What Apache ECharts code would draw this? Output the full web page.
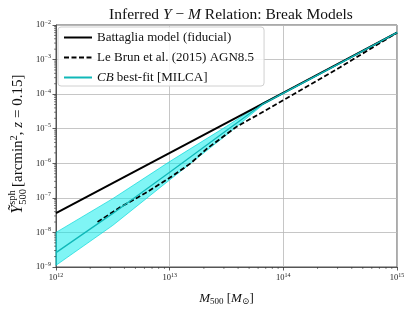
<!DOCTYPE html>
<html><head><meta charset="utf-8">
<script src="https://cdn.jsdelivr.net/npm/echarts@6/dist/echarts.min.js"></script>
<style>html,body{margin:0;padding:0;background:#fff}#c{width:415px;height:311px}</style>
</head><body><div id="c"></div>
<script>
// ---- data ----
const massBattaglia = [1e12, 1e15];
const yBattaglia = [3.63e-8, 6.0e-3];

const massCB = [1e12, 3.16e12, 1e13, 3.16e13, 6.6e13, 1e14, 3.16e14, 1e15];
const yCB = [2.6e-9, 3.55e-8, 5.5e-7, 8.9e-6, 5.2e-5, 1.07e-4, 7.9e-4, 6.0e-3];
const yCBUpper = [1.0e-8, 9.5e-8, 1.12e-6, 1.17e-5, 5.6e-5, 1.12e-4, 8.3e-4, 6.3e-3];
const yCBLower = [1.12e-9, 1.6e-8, 3.3e-7, 6.6e-6, 4.9e-5, 1.02e-4, 7.6e-4, 5.8e-3];

const massLeBrun = [2.32e12, 3.69e12, 6.12e12, 1e13, 1.53e13, 2.14e13, 3.89e13, 6.3e13, 1.07e14, 3.16e14, 1e15];
const yLeBrun = [2.0e-8, 5.4e-8, 1.38e-7, 3.8e-7, 1.0e-6, 2.7e-6, 1.15e-5, 2.8e-5, 7.6e-5, 6.0e-4, 6.0e-3];

const seriesNames = ['Battaglia model (fiducial)', 'Le Brun et al. (2015) AGN8.5', 'CB best-fit [MILCA]'];
const xMin = 1e12, xMax = 1e15, yMin = 1e-9, yMax = 1e-2;

// ---- build ----
const zip = (a, b) => a.map((v, i) => [v, b[i]]);
const SERIF = '"Liberation Serif", "DejaVu Serif", serif';
const tickFmt = v => {
  const e = Math.round(Math.log10(v));
  return '{b|10}{e|' + (e < 0 ? '\u2212' + (-e) : e) + '}';
};
const tickRich = {
  b: {fontFamily: SERIF, fontSize: 8.5, color: '#222'},
  e: {fontFamily: SERIF, fontSize: 6, color: '#222', padding: [0, 0, 6, 0]}
};
const minorX = [], minorY = [];
for (let k = 12; k < 15; k++) for (let m = 2; m <= 9; m++) minorX.push(m * Math.pow(10, k));
for (let k = -9; k < -2; k++) for (let m = 2; m <= 9; m++) minorY.push(m * Math.pow(10, k));

const chart = echarts.init(document.getElementById('c'), null, {renderer: 'canvas'});

const option = {
  animation: false,
  backgroundColor: '#fff',
  textStyle: {fontFamily: SERIF},
  title: {
    text: 'Inferred {i|Y} \u2212 {i|M} Relation: Break Models',
    left: 226, top: 2, textAlign: 'center',
    textStyle: {fontFamily: SERIF, fontSize: 15.5, fontWeight: 'normal', color: '#111',
      rich: {i: {fontFamily: SERIF, fontSize: 15.5, fontStyle: 'italic', color: '#111'}}}
  },
  grid: {left: 56, right: 18, top: 25, bottom: 44, show: true, borderColor: '#555', borderWidth: 1},
  legend: {
    orient: 'vertical', left: 58, top: 27,
    padding: [4, 10, 2, 5], itemGap: 7, itemWidth: 28, itemHeight: 12,
    backgroundColor: 'rgba(255,255,255,0.85)', borderColor: '#d0d0d0', borderWidth: 1, borderRadius: 3,
    data: seriesNames,
    itemStyle: {opacity: 0},
    formatter: n => n === seriesNames[2] ? '{i|CB} best-fit [MILCA]' : n,
    textStyle: {fontFamily: SERIF, fontSize: 13, color: '#111',
      rich: {i: {fontFamily: SERIF, fontSize: 13, fontStyle: 'italic', color: '#111'}}}
  },
  xAxis: {
    type: 'log', logBase: 10, min: xMin, max: xMax, interval: 1,
    axisLine: {show: true, lineStyle: {color: '#555', width: 1}},
    axisTick: {show: true, length: 3.5, inside: false, lineStyle: {color: '#333', width: 0.8}},
    axisLabel: {formatter: tickFmt, rich: tickRich, margin: 5},
    splitLine: {show: true, lineStyle: {color: '#b8b8b8', width: 0.8}},
    name: '{i|M}{s|500} [{i|M}{s|\u2299}]', nameLocation: 'middle', nameGap: 25,
    nameTextStyle: {fontFamily: SERIF, fontSize: 13, color: '#111',
      rich: {i: {fontFamily: SERIF, fontSize: 13, fontStyle: 'italic', color: '#111'},
             s: {fontFamily: SERIF, fontSize: 9, color: '#111', padding: [5, 0, 0, 0]}}}
  },
  yAxis: {
    type: 'log', logBase: 10, min: yMin, max: yMax, interval: 1,
    axisLine: {show: true, lineStyle: {color: '#555', width: 1}},
    axisTick: {show: true, length: 3.5, inside: false, lineStyle: {color: '#333', width: 0.8}},
    axisLabel: {formatter: tickFmt, rich: tickRich, margin: 5},
    splitLine: {show: true, lineStyle: {color: '#b8b8b8', width: 0.8}}
  },
  series: [
    {
      name: 'band', type: 'custom', silent: true, z: 1,
      data: [0],
      renderItem: (params, api) => {
        const up = massCB.map((m, i) => api.coord([m, yCBUpper[i]]));
        const lo = massCB.map((m, i) => api.coord([m, yCBLower[i]])).reverse();
        return {type: 'group', children: [
          {type: 'polygon', shape: {points: up.concat(lo)},
           style: {fill: 'rgba(0,235,235,0.5)', stroke: 'rgba(0,215,215,0.85)', lineWidth: 0.8}}
        ]};
      }
    },
    {
      name: seriesNames[0], type: 'line', symbol: 'none', z: 3,
      data: zip(massBattaglia, yBattaglia),
      lineStyle: {color: '#000', width: 2}, itemStyle: {color: '#000'}
    },
    {
      name: seriesNames[1], type: 'line', symbol: 'none', z: 4,
      data: zip(massLeBrun, yLeBrun),
      lineStyle: {color: '#000', width: 1.8, type: [5, 2.5]}, itemStyle: {color: '#000'}
    },
    {
      name: seriesNames[2], type: 'line', symbol: 'none', z: 5,
      data: zip(massCB, yCB),
      lineStyle: {color: '#10b8b8', width: 1.3}, itemStyle: {color: '#10b8b8'}
    },
    {
      name: 'minorX', type: 'custom', silent: true, z: 6, clip: false,
      data: minorX,
      renderItem: (params, api) => {
        const p = api.coord([api.value(0), yMin]);
        return {type: 'line', shape: {x1: p[0], y1: p[1], x2: p[0], y2: p[1] + 2},
                style: {stroke: '#333', lineWidth: 0.6}};
      }
    },
    {
      name: 'minorY', type: 'custom', silent: true, z: 6, clip: false,
      data: minorY.map(v => [xMin, v]),
      renderItem: (params, api) => {
        const p = api.coord([xMin, api.value(1)]);
        return {type: 'line', shape: {x1: p[0], y1: p[1], x2: p[0] - 2, y2: p[1]},
                style: {stroke: '#333', lineWidth: 0.6}};
      }
    }
  ]
};
chart.setOption(option);

// y-axis label with stacked super/subscript, drawn as real text
(function () {
  const ctx = document.createElement('canvas').getContext('2d');
  const meas = (t, f) => { ctx.font = f; return ctx.measureText(t).width; };
  const fMain = 'italic 16px ' + SERIF, fSmall = '10.5px ' + SERIF, fNorm = '15px ' + SERIF, fIt = 'italic 15px ' + SERIF;
  const w1 = meas('\u1EF8', fMain);
  const w2 = Math.max(meas('sph', fSmall), meas('500', fSmall));
  const restRich = '[arcmin{s|2}, {i|z} = 0.15]';
  const w3 = meas('[arcmin, = 0.15]', fNorm) + meas('2', fSmall) + meas('z', fIt);
  const W = w1 + w2 + 2 + w3;
  const cx = 18, cy = 146;
  chart.setOption({graphic: [{
    type: 'group', rotation: Math.PI / 2, x: cx, y: cy + W / 2,
    children: [
      {type: 'text', x: 0, y: 0, style: {text: '\u1EF8', font: fMain, fill: '#111', verticalAlign: 'middle'}},
      {type: 'text', x: w1, y: -6, style: {text: 'sph', font: fSmall, fill: '#111', verticalAlign: 'middle'}},
      {type: 'text', x: w1, y: 5, style: {text: '500', font: fSmall, fill: '#111', verticalAlign: 'middle'}},
      {type: 'text', x: w1 + w2 + 2, y: 0, style: {text: restRich, font: fNorm, fill: '#111', verticalAlign: 'middle',
        rich: {s: {font: fSmall, fill: '#111', padding: [0, 0, 7, 0]}, i: {font: fIt, fill: '#111'}}}}
    ]
  }]});
})();
</script></body></html>
